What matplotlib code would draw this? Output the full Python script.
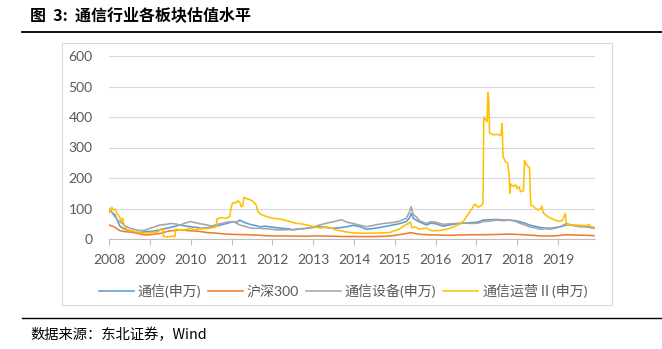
import matplotlib
matplotlib.use("Agg")
import matplotlib.pyplot as plt
from matplotlib.patches import Rectangle
from matplotlib.lines import Line2D

plt.rcParams['font.family'] = ['Lato', 'Noto Sans CJK SC', 'DejaVu Sans']

# 通信运营II(申万)
ops_t = [2008.00, 2008.03, 2008.06, 2008.10, 2008.14, 2008.18, 2008.22, 2008.26, 2008.30, 2008.33,
         2008.36, 2008.42, 2008.50, 2008.60, 2008.70, 2008.80, 2008.90, 2009.00, 2009.10, 2009.20,
         2009.27, 2009.31, 2009.33, 2009.45, 2009.55, 2009.61, 2009.63, 2009.70, 2009.80, 2009.90,
         2010.00, 2010.10, 2010.20, 2010.35, 2010.50, 2010.62, 2010.64, 2010.75, 2010.85, 2010.95,
         2011.00, 2011.04, 2011.10, 2011.15, 2011.20, 2011.23, 2011.27, 2011.30, 2011.36, 2011.42,
         2011.50, 2011.56, 2011.60, 2011.64, 2011.70, 2011.80, 2011.90, 2012.00, 2012.15, 2012.30,
         2012.40, 2012.50, 2012.60, 2012.70, 2012.84, 2013.00, 2013.10, 2013.20, 2013.30, 2013.40,
         2013.55, 2013.70, 2013.85, 2014.00, 2014.20, 2014.40, 2014.60, 2014.87, 2015.00, 2015.10,
         2015.24, 2015.32, 2015.38, 2015.42, 2015.50, 2015.60, 2015.77, 2015.90, 2016.10, 2016.30,
         2016.45, 2016.60, 2016.70, 2016.78, 2016.88, 2016.96, 2017.04, 2017.12, 2017.16, 2017.18,
         2017.22, 2017.26, 2017.28, 2017.30, 2017.32, 2017.40, 2017.50, 2017.60, 2017.63, 2017.65,
         2017.68, 2017.71, 2017.76, 2017.80, 2017.82, 2017.84, 2017.90, 2017.96, 2018.00, 2018.04,
         2018.08, 2018.15, 2018.18, 2018.22, 2018.30, 2018.33, 2018.40, 2018.50, 2018.58, 2018.60,
         2018.64, 2018.75, 2018.85, 2019.00, 2019.10, 2019.18, 2019.20, 2019.30, 2019.50, 2019.70,
         2019.75, 2019.80, 2019.88]
ops_v = [100, 92, 104, 95, 98, 88, 78, 70, 57, 68,
         45, 32, 28, 25, 22, 19, 20, 21, 22, 24,
         34, 32, 8, 7, 9, 8, 33, 30, 28, 32,
         35, 30, 33, 34, 36, 40, 66, 70, 68, 73,
         112, 120, 118, 126, 120, 106, 108, 137, 132, 130,
         126, 118, 112, 90, 82, 76, 72, 68, 66, 62,
         58, 54, 51, 50, 46, 41, 38, 36, 40, 38,
         30, 26, 22, 20, 19, 19, 20, 21, 27, 32,
         45, 50, 56, 36, 40, 32, 36, 27, 28, 33,
         40, 50, 62, 78, 98, 115, 104, 110, 118, 400,
         392, 385, 480, 460, 348, 342, 343, 340, 378, 270,
         262, 253, 250, 212, 150, 180, 172, 178, 165, 172,
         155, 158, 258, 245, 232, 112, 106, 95, 100, 108,
         85, 73, 66, 58, 60, 84, 47, 46, 45, 44,
         48, 41, 38]

# 通信(申万)
tel_t = [2008.00, 2008.04, 2008.08, 2008.14, 2008.20, 2008.26, 2008.35, 2008.43, 2008.55, 2008.67,
         2008.80, 2008.90, 2009.05, 2009.24, 2009.40, 2009.57, 2009.73, 2009.85, 2010.00, 2010.15,
         2010.25, 2010.40, 2010.55, 2010.70, 2010.88, 2011.04, 2011.12, 2011.20, 2011.28, 2011.36,
         2011.50, 2011.60, 2011.69, 2011.80, 2011.95, 2012.10, 2012.25, 2012.40, 2012.50, 2012.65,
         2012.84, 2013.00, 2013.16, 2013.30, 2013.50, 2013.65, 2013.82, 2013.97, 2014.15, 2014.30,
         2014.45, 2014.63, 2014.80, 2014.95, 2015.10, 2015.28, 2015.36, 2015.40, 2015.45, 2015.52,
         2015.60, 2015.77, 2015.88, 2016.00, 2016.18, 2016.30, 2016.50, 2016.70, 2016.90, 2017.05,
         2017.16, 2017.30, 2017.50, 2017.65, 2017.82, 2017.95, 2018.06, 2018.18, 2018.30, 2018.42,
         2018.55, 2018.68, 2018.80, 2018.95, 2019.05, 2019.20, 2019.35, 2019.54, 2019.70, 2019.88]
tel_v = [95, 90, 86, 80, 60, 42, 34, 30, 26, 21,
         22, 24, 25, 30, 35, 40, 46, 43, 40, 38,
         35, 37, 40, 45, 51, 57, 55, 62, 56, 52,
         46, 44, 40, 42, 40, 37, 35, 33, 30, 33,
         35, 38, 40, 38, 35, 37, 40, 45, 40, 32,
         34, 38, 42, 46, 50, 57, 70, 84, 68, 62,
         56, 46, 52, 50, 42, 45, 50, 52, 54, 56,
         62, 63, 64, 62, 62, 60, 57, 52, 46, 42,
         38, 36, 35, 38, 40, 46, 45, 43, 40, 35]

# 通信设备(申万)
eqp_t = [2008.00, 2008.03, 2008.07, 2008.14, 2008.20, 2008.26, 2008.34, 2008.43, 2008.55, 2008.67,
         2008.80, 2008.90, 2009.00, 2009.12, 2009.24, 2009.40, 2009.50, 2009.65, 2009.73, 2009.85,
         2010.00, 2010.12, 2010.23, 2010.40, 2010.50, 2010.64, 2010.80, 2010.88, 2011.04, 2011.12,
         2011.20, 2011.36, 2011.50, 2011.70, 2011.90, 2012.10, 2012.30, 2012.50, 2012.70, 2012.84,
         2013.00, 2013.16, 2013.33, 2013.50, 2013.70, 2013.82, 2013.97, 2014.15, 2014.30, 2014.45,
         2014.63, 2014.80, 2014.95, 2015.10, 2015.28, 2015.36, 2015.40, 2015.45, 2015.53, 2015.60,
         2015.77, 2015.88, 2016.00, 2016.18, 2016.35, 2016.50, 2016.70, 2016.90, 2017.05, 2017.16,
         2017.30, 2017.50, 2017.65, 2017.82, 2017.95, 2018.06, 2018.18, 2018.30, 2018.45, 2018.55,
         2018.70, 2018.80, 2018.95, 2019.05, 2019.20, 2019.35, 2019.54, 2019.70, 2019.88]
eqp_v = [88, 96, 85, 73, 62, 57, 48, 40, 34, 30,
         27, 30, 35, 40, 46, 48, 51, 49, 45, 52,
         57, 53, 50, 46, 42, 48, 52, 55, 57, 52,
         46, 40, 35, 35, 33, 30, 30, 31, 33, 35,
         40, 46, 52, 57, 63, 55, 51, 45, 40, 44,
         49, 52, 54, 58, 68, 90, 106, 80, 72, 60,
         51, 57, 55, 48, 50, 51, 52, 51, 52, 57,
         58, 62, 60, 62, 58, 52, 46, 40, 36, 32,
         34, 32, 36, 40, 51, 45, 40, 40, 37]

# 沪深300
hs_t = [2008.00, 2008.05, 2008.12, 2008.26, 2008.40, 2008.55, 2008.67, 2008.80, 2008.90, 2009.05,
        2009.24, 2009.40, 2009.50, 2009.60, 2009.73, 2009.90, 2010.00, 2010.20, 2010.40, 2010.55,
        2010.70, 2010.88, 2011.10, 2011.40, 2011.60, 2011.80, 2012.00, 2012.40, 2012.80, 2013.00,
        2013.16, 2013.50, 2013.74, 2014.00, 2014.50, 2014.80, 2015.00, 2015.20, 2015.40, 2015.50,
        2015.65, 2015.80, 2016.00, 2016.30, 2016.60, 2016.90, 2017.20, 2017.50, 2017.80, 2018.00,
        2018.15, 2018.40, 2018.55, 2018.90, 2019.20, 2019.40, 2019.70, 2019.88]
hs_v = [46, 43, 40, 27, 24, 22, 19, 15, 13, 15,
        18, 24, 27, 28, 30, 28, 27, 25, 21, 20,
        18, 16, 15, 14, 13, 11, 10, 10, 9, 10,
        10, 9, 8, 8, 8, 9, 12, 16, 21, 18,
        15, 14, 13, 12, 13, 14, 14, 15, 16, 15,
        14, 12, 10, 10, 14, 13, 12, 11]

years = list(range(2008, 2020))
y_ticks = [0, 100, 200, 300, 400, 500, 600]

labels = ['通信(申万)', '沪深300', '通信设备(申万)', '通信运营Ⅱ(申万)']
colors = ['#5B9BD5', '#ED7D31', '#A5A5A5', '#FFC000']

W, H = 662, 349
fig = plt.figure(figsize=(W / 100, H / 100), dpi=100)

# title and rules
fig.text(30 / W, 1 - 15 / H, '图  3:  通信行业各板块估值水平', fontsize=11.5, fontweight='bold',
         family=['Noto Sans CJK SC'], va='center', ha='left')
fig.add_artist(Line2D([22 / W, 1], [1 - 32 / H] * 2, color='black', lw=1.3))
fig.add_artist(Line2D([22 / W, 1], [1 - 318 / H] * 2, color='black', lw=1.0))
fig.text(30 / W, 1 - 335 / H, '数据来源：东北证券，Wind', fontsize=10.3,
         family=['Noto Sans CJK SC', 'Liberation Serif'], va='center', ha='left')

# chart frame
fig.add_artist(Rectangle((62 / W, 1 - 305 / H), 550 / W, 262 / H, transform=fig.transFigure,
                         fill=False, edgecolor='#D9D9D9', lw=0.8))

ax = fig.add_axes([109.3 / W, 1 - 239 / H, 485.5 / W, 183 / H])
ax.plot(tel_t, tel_v, color=colors[0], lw=1.15, label=labels[0], zorder=3)
ax.plot(hs_t, hs_v, color=colors[1], lw=1.15, label=labels[1], zorder=3)
ax.plot(eqp_t, eqp_v, color=colors[2], lw=1.15, label=labels[2], zorder=3)
ax.plot(ops_t, ops_v, color=colors[3], lw=1.15, label=labels[3], zorder=4)

ax.set_xlim(2008.0, 2019.9)
ax.set_ylim(0, 600)
ax.set_yticks(y_ticks)
ax.set_xticks(years)
ax.set_xticklabels([str(y) for y in years])
ax.grid(axis='y', color='#D9D9D9', lw=0.8)
ax.set_axisbelow(True)
for s in ['top', 'right', 'left']:
    ax.spines[s].set_visible(False)
ax.spines['bottom'].set_color('#BFBFBF')
ax.spines['bottom'].set_linewidth(0.8)
ax.tick_params(axis='y', length=0, pad=12, labelsize=10, labelcolor='#595959')
ax.tick_params(axis='x', length=4, width=0.8, color='#BFBFBF', direction='out', pad=7,
               labelsize=10, labelcolor='#595959')

leg = fig.legend(loc='center', bbox_to_anchor=(343 / W, 1 - 291 / H), ncol=4, frameon=False,
                 handlelength=2.5, handletextpad=0.3, columnspacing=0.45,
                 prop={'family': ['Lato', 'Noto Sans CJK SC'], 'size': 10.1})
for t in leg.get_texts():
    t.set_color('#595959')

fig.savefig('out.png', dpi=100)
